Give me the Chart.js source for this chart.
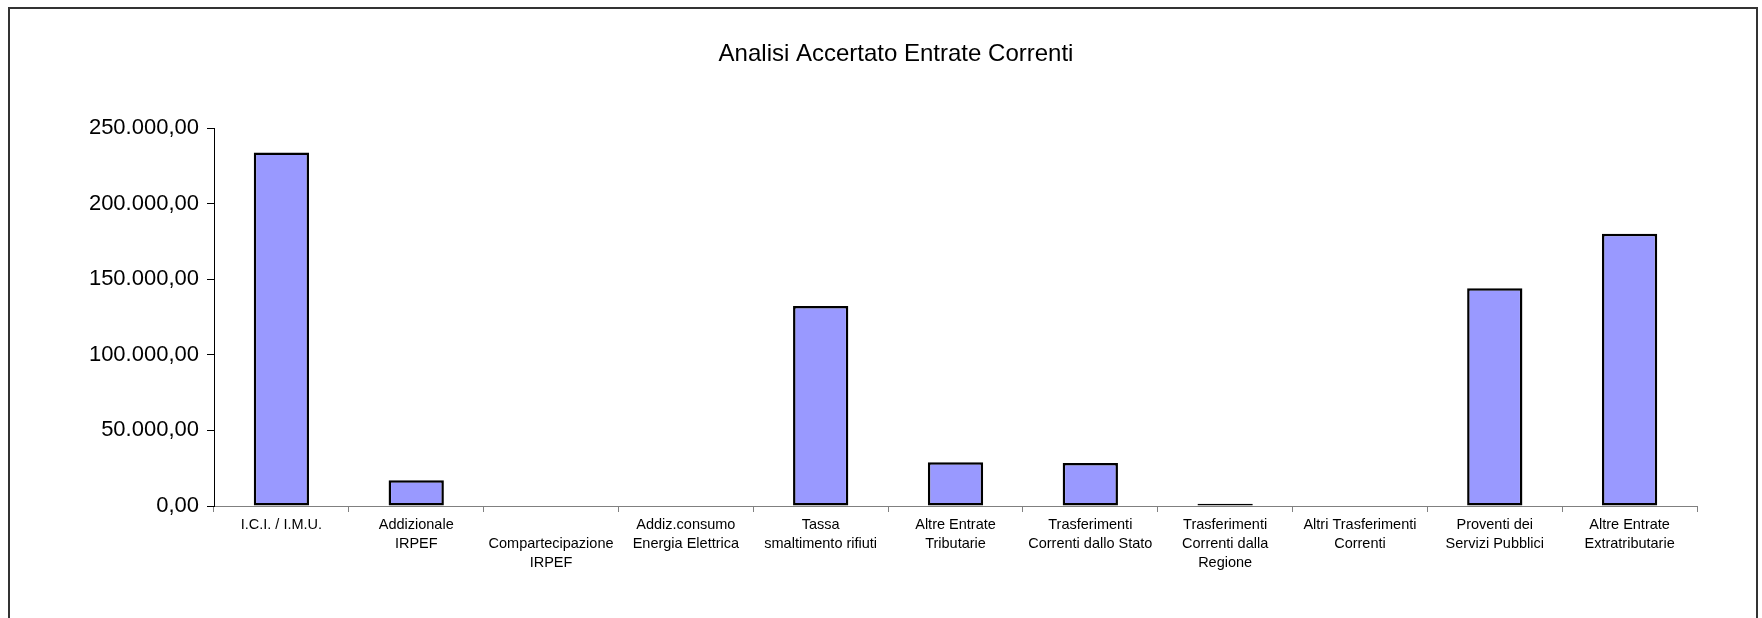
<!DOCTYPE html>
<html>
<head>
<meta charset="UTF-8">
<title>Analisi Accertato Entrate Correnti</title>
<script src="https://cdn.jsdelivr.net/npm/chart.js@4/dist/chart.umd.min.js"></script>
<style>
	html, body { margin:0; padding:0; background:#fff; overflow:hidden; }
	#wrap { position:relative; width:1762px; height:618px; }
	#frame { position:absolute; left:8px; top:7px; width:1746px; height:700px; border:2px solid #333; pointer-events:none; }
	#myChart { position:absolute; left:0; top:0; }
</style>
</head>
<body>
<div id="wrap">
	<div id="frame"></div>
	<canvas id="myChart" width="1762" height="618"></canvas>
</div>

<script>
	let titolo = "Analisi Accertato Entrate Correnti";
	// categorie (etichette asse x, righe multiple)
	let categorie = [
		"I.C.I. / I.M.U.",
		["Addizionale", "IRPEF"],
		["", "Compartecipazione", "IRPEF"],
		["Addiz.consumo", "Energia Elettrica"],
		["Tassa", "smaltimento rifiuti"],
		["Altre Entrate", "Tributarie"],
		["Trasferimenti", "Correnti dallo Stato"],
		["Trasferimenti", "Correnti dalla", "Regione"],
		["Altri Trasferimenti", "Correnti"],
		["Proventi dei", "Servizi Pubblici"],
		["Altre Entrate", "Extratributarie"]
	];
	// valori accertati
	let accertato = [233800, 17000, 0, 0, 132200, 29000, 28500, 1500, 0, 144000, 180000];

	let yMin = 0;
	let yMax = 250000;
	let yStep = 50000;

	// 250000 -> "250.000,00"
	function formatoIt(v) {
		let s = Math.round(v).toString();
		s = s.replace(/\B(?=(\d{3})+(?!\d))/g, ".");
		return s + ",00";
	}
</script>

<script>
	Chart.defaults.font.family = "'Liberation Sans', Arial, sans-serif";
	Chart.defaults.color = "#000";

	// titolo centrato sul riquadro esterno (non sull'area del grafico)
	const titoloPlugin = {
		id: "titolo",
		afterDraw: function(chart) {
			const ctx = chart.ctx;
			ctx.save();
			ctx.font = "24px 'Liberation Sans', Arial, sans-serif";
			ctx.fillStyle = "#000";
			ctx.textAlign = "center";
			ctx.textBaseline = "middle";
			ctx.fillText(titolo, chart.width / 2 + 15, 54);
			ctx.restore();
		}
	};

	new Chart("myChart", {
		type: "bar",
		data: {
			labels: categorie,
			datasets: [{
				data: accertato,
				backgroundColor: "#9999FF",
				borderColor: "#000",
				borderWidth: 2.5,
				borderSkipped: false,
				categoryPercentage: 1,
				barPercentage: 0.41
			}]
		},
		plugins: [titoloPlugin],
		options: {
			responsive: false,
			animation: false,
			layout: { padding: { left: 0, right: 65, top: 128, bottom: 0 } },
			plugins: {
				legend: { display: false },
				tooltip: { enabled: false },
				title: { display: false }
			},
			scales: {
				x: {
					grid: { drawOnChartArea: false, color: "#808080", tickLength: 6, offset: true },
					border: { color: "#808080", width: 1 },
					ticks: { maxRotation: 0, autoSkip: false, padding: 3, font: { size: 14.5, lineHeight: 1.32 } },
					afterFit: function(scale) { scale.height = 112; }
				},
				y: {
					min: yMin,
					max: yMax,
					grid: { drawOnChartArea: false, color: "#000", tickLength: 7 },
					border: { color: "#000", width: 1 },
					ticks: {
						stepSize: yStep,
						padding: 8,
						font: { size: 22 },
						callback: function(v) { return formatoIt(v); }
					},
					afterFit: function(scale) { scale.width = 214; }
				}
			}
		}
	});
</script>
</body>
</html>
